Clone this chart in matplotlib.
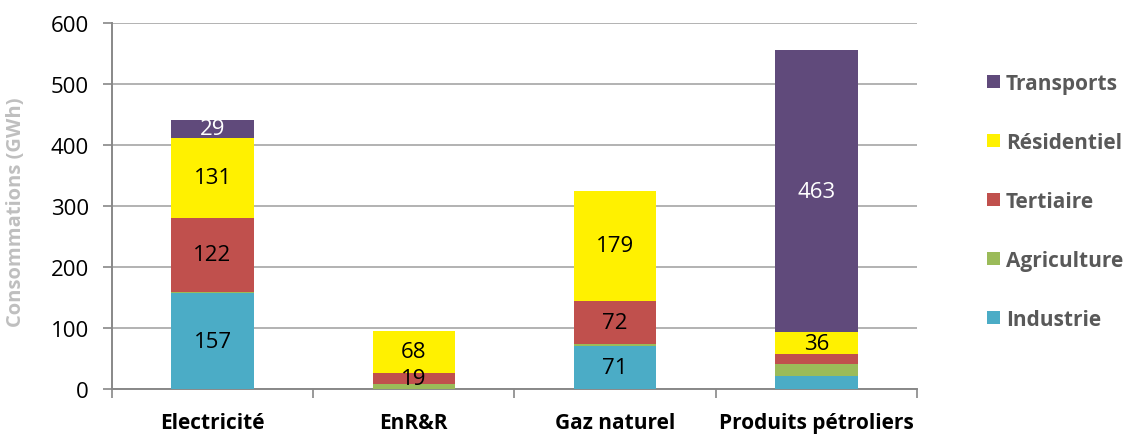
import numpy as np
import matplotlib
matplotlib.use('Agg')
import matplotlib.pyplot as plt
from matplotlib.patches import Patch

# ---- data ----
categories = ['Electricité', 'EnR&R', 'Gaz naturel', 'Produits pétroliers']
series = ['Industrie', 'Agriculture', 'Tertiaire', 'Résidentiel', 'Transports']
industrie = [157, 0, 71, 21]
agriculture = [2, 8, 2, 20]
tertiaire = [122, 19, 72, 16]
residentiel = [131, 68, 179, 36]
transports = [29, 0, 0, 463]
# which values get a label on the bar
shown = {
    'Industrie': [True, False, True, False],
    'Agriculture': [False, False, False, False],
    'Tertiaire': [True, True, True, False],
    'Résidentiel': [True, True, True, True],
    'Transports': [True, False, False, True],
}

COLORS = {
    'Industrie': '#4BACC6',
    'Agriculture': '#9BBB59',
    'Tertiaire': '#C0504D',
    'Résidentiel': '#FFF100',
    'Transports': '#604A7B',
}
C_AXIS = '#888888'
C_GRID = '#A6A6A6'

plt.rcParams['font.family'] = ['Open Sans', 'DejaVu Sans']

fig = plt.figure(figsize=(11.3, 4.35), dpi=100)
ax = fig.add_axes([0.099, 0.1034, 0.7125, 0.8414])

x = np.arange(len(categories))
width = 0.41
bottom = np.zeros(len(categories))
values = [industrie, agriculture, tertiaire, residentiel, transports]
for name, vals in zip(series, values):
    vals = np.array(vals, dtype=float)
    ax.bar(x, vals, width, bottom=bottom, color=COLORS[name], zorder=3, linewidth=0)
    for i, v in enumerate(vals):
        if shown[name][i]:
            tc = 'white' if name == 'Transports' else 'black'
            ax.text(x[i], bottom[i] + v / 2, f'{int(v)}', ha='center', va='center',
                    fontsize=16, color=tc, zorder=4)
    bottom += vals

ax.set_xlim(-0.5, len(categories) - 0.5)
ax.set_ylim(0, 600)
ax.set_yticks(np.arange(0, 601, 100))
ax.yaxis.grid(True, color=C_GRID, linewidth=1.2, zorder=0)
ax.tick_params(axis='y', labelsize=16, color=C_AXIS, length=6.5, width=1.2, pad=10)

# category boundaries carry the tick marks, names sit in between
ax.set_xticks(np.arange(-0.5, len(categories)))
ax.set_xticklabels([])
ax.tick_params(axis='x', color=C_AXIS, length=6.5, width=1.2)
for i, c in enumerate(categories):
    ax.text(x[i], -0.107, c, transform=ax.get_xaxis_transform(), ha='center', va='baseline',
            fontsize=15, fontweight='bold', color='black', clip_on=False)

for s in ['top', 'right']:
    ax.spines[s].set_visible(False)
for s in ['left', 'bottom']:
    ax.spines[s].set_color(C_AXIS)
    ax.spines[s].set_linewidth(1.4)

ax.set_ylabel('Consommations (GWh)', fontsize=14.5, fontweight='bold', color='#BFBFBF')
ax.yaxis.set_label_coords(-0.107, 0.485)

handles = [Patch(facecolor=COLORS[n], edgecolor='none', label=n) for n in reversed(series)]
leg = fig.legend(handles=handles, loc='center left', bbox_to_anchor=(0.866, 0.535),
                 borderaxespad=0, frameon=False, fontsize=15, handlelength=0.62,
                 handleheight=0.62, handletextpad=0.3, labelspacing=1.82)
for t in leg.get_texts():
    t.set_fontweight('bold')
    t.set_color('#595959')

fig.savefig('out.png', dpi=100)
